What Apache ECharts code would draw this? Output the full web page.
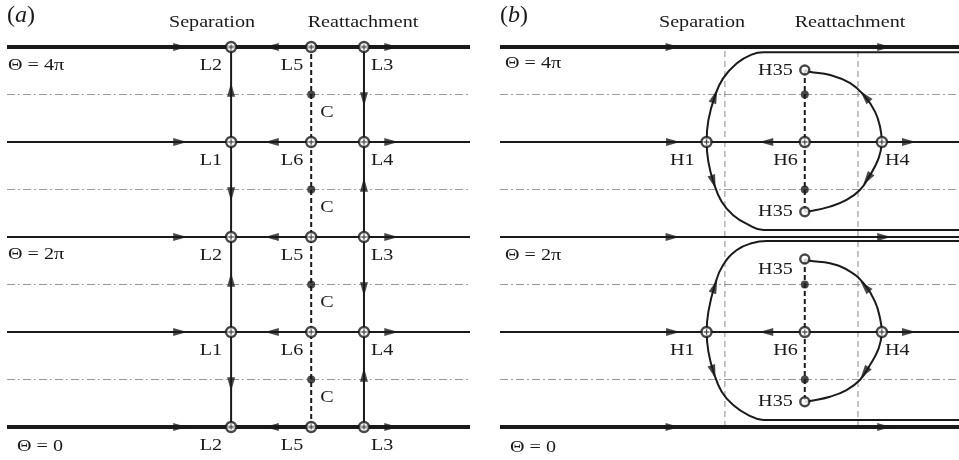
<!DOCTYPE html>
<html>
<head>
<meta charset="utf-8">
<script src="https://cdn.jsdelivr.net/npm/echarts@6/dist/echarts.min.js"></script>
<style>
  html, body { margin: 0; padding: 0; background: #ffffff; }
  #chart { width: 959px; height: 460px; }
</style>
</head>
<body>
<div id="chart"></div>
<script>
// Phase levels Θ, in units of π
const thetaLevels = [0, 1, 2, 3, 4];
const midLevels = [0.5, 1.5, 2.5, 3.5];

// ---------- (a) limiting streamlines, stream-wise positions on a 0–100 scale ----------
const aColumnsX = [48.4, 65.7, 77.1];            // separation, centre line, reattachment
const aEvenNames = ['L2', 'L5', 'L3'];           // at Θ = 0, 2π, 4π
const aOddNames = ['L1', 'L6', 'L4'];            // at Θ = π, 3π
const aFlowArrows = [[37.4, 0], [57.2, 180], [83.0, 0]];                 // x, heading (deg)
const aSepArrows = [[3.55, 90], [2.45, -90], [1.55, 90], [0.45, -90]];   // Θ, heading
const aReatArrows = [[3.45, -90], [2.55, 90], [1.45, -90], [0.55, 90]];
const aThetaTags = [[4, 'Θ = 4π'], [2, 'Θ = 2π'], [0, 'Θ = 0']];

// ---------- (b) ----------
const bGuideX = [49.0, 78.0];                    // separation / reattachment guides
const bGuideTop = 3.97;
const bNodeX = [45.0, 66.4, 83.2];               // H1, H6, H4
const bNodeNames = ['H1', 'H6', 'H4'];
const bNodeLevels = [1, 3];
const bH35 = [[66.4, 3.758], [66.4, 2.266], [66.4, 1.768], [66.4, 0.266]];
const bCoreSegments = [[3.758, 2.266], [1.768, 0.266]];
const bThetaTags = [[4, 'Θ = 4π'], [2, 'Θ = 2π'], [0, 'Θ = 0']];
const bMainArrows = [[37.6, 0], [83.7, 0]];                   // on Θ = 0, 2π, 4π
const bNodeLineArrows = [[37.7, 0], [58.0, 180], [89.1, 0]];  // on Θ = π, 3π

// separatrices spiralling into the H35 foci, Θ in 2π..4π
const bUpperA = [[45.0, 3.0], [45.4, 3.23], [46.8, 3.48], [48.6, 3.67], [51.6, 3.83], [54.8, 3.92], [57.4, 3.945], [100, 3.945]];
const bLowerA = [[45.0, 3.0], [45.4, 2.79], [46.5, 2.58], [48.3, 2.37], [50.8, 2.23], [54.1, 2.13], [57.4, 2.074], [100, 2.074]];
const bArcUpA = [[66.4, 3.758], [67.4, 3.74], [71.9, 3.705], [76.3, 3.62], [79.5, 3.48], [81.7, 3.32], [82.8, 3.16], [83.2, 3.0]];
const bArcDownA = [[83.2, 3.0], [82.5, 2.83], [80.6, 2.65], [78.4, 2.495], [75.5, 2.39], [71.9, 2.32], [67.5, 2.27], [66.4, 2.266]];
// Θ in 0..2π
const bUpperB = [[45.0, 1.0], [45.4, 1.214], [46.8, 1.495], [48.6, 1.705], [51.6, 1.863], [54.8, 1.934], [58.1, 1.958], [100, 1.958]];
const bLowerB = [[45.0, 1.0], [45.4, 0.793], [46.5, 0.582], [48.3, 0.372], [50.8, 0.232], [54.1, 0.126], [57.4, 0.074], [100, 0.074]];
const bArcUpB = [[66.4, 1.768], [67.4, 1.75], [71.9, 1.723], [76.3, 1.635], [79.5, 1.495], [81.7, 1.32], [82.8, 1.144], [83.2, 1.0]];
const bArcDownB = [[83.2, 1.0], [82.5, 0.828], [80.6, 0.653], [78.4, 0.495], [75.5, 0.389], [71.9, 0.319], [67.5, 0.274], [66.4, 0.266]];
const bCurveArrows = [
  [46.8, 3.48, 70], [79.5, 3.48, 131], [46.5, 2.58, -72], [80.0, 2.61, -125],
  [46.8, 1.48, 70], [79.5, 1.48, 131], [46.5, 0.58, -72], [79.4, 0.57, -125]
];

// ---------- styling helpers ----------
const INK = '#1a1a1a';
const SERIF = '"Liberation Serif", "DejaVu Serif", serif';
const TEXT_SIZE = 17.5, TEXT_STRETCH = 1.15;
const base = { silent: true, animation: false };

function path(gi, pts, width, type, color, smooth) {
  return Object.assign({
    type: 'line', xAxisIndex: gi, yAxisIndex: gi, data: pts, symbol: 'none', clip: false,
    smooth: smooth || false, z: 2,
    lineStyle: { color: color || INK, width: width, type: type || 'solid' }
  }, base);
}
function arrows(gi, pts) {
  return Object.assign({
    type: 'scatter', xAxisIndex: gi, yAxisIndex: gi, data: pts, clip: false,
    symbol: 'triangle', symbolSize: [8, 14], symbolRotate: v => v[2] - 90,
    itemStyle: { color: INK }, z: 6
  }, base);
}
function nodes(gi, pts) {
  return [
    Object.assign({
      type: 'scatter', xAxisIndex: gi, yAxisIndex: gi, clip: false, symbol: 'circle', symbolSize: 10,
      itemStyle: { color: '#fff', borderColor: INK, borderWidth: 2.4 }, z: 7, data: pts
    }, base),
    Object.assign({
      type: 'scatter', xAxisIndex: gi, yAxisIndex: gi, clip: false,
      symbol: 'path://M-1,-5H1V-1H5V1H1V5H-1V1H-5V-1H-1Z', symbolSize: 5,
      itemStyle: { color: INK }, z: 8, data: pts
    }, base)
  ];
}
function dots(gi, pts) {
  return Object.assign({
    type: 'scatter', xAxisIndex: gi, yAxisIndex: gi, clip: false, symbol: 'circle', symbolSize: 8,
    itemStyle: { color: INK }, z: 7, data: pts
  }, base);
}

const series = [];
const labels = [];   // text tied to data points: grid, point, text, pixel nudge, alignment
const tag = (gi, at, text, dx, dy, align) => labels.push({ gi, at, text, dx, dy, align });

// ---------- panel (a) ----------
midLevels.forEach(t => series.push(path(0, [[0, t], [100, t]], 1, [8, 3, 2, 3], '#9c9c9c')));
thetaLevels.forEach(t => series.push(path(0, [[0, t], [100, t]], (t === 0 || t === 4) ? 4 : 2)));
series.push(path(0, [[aColumnsX[0], 0], [aColumnsX[0], 4]], 2));
series.push(path(0, [[aColumnsX[2], 0], [aColumnsX[2], 4]], 2));
series.push(path(0, [[aColumnsX[1], 0], [aColumnsX[1], 4]], 2, [5, 3]));

const aArrowPts = [];
thetaLevels.forEach(t => aFlowArrows.forEach(([x, h]) => aArrowPts.push([x, t, h])));
aSepArrows.forEach(([t, h]) => aArrowPts.push([aColumnsX[0], t, h]));
aReatArrows.forEach(([t, h]) => aArrowPts.push([aColumnsX[2], t, h]));
series.push(arrows(0, aArrowPts));

const aNodePts = [];
const aNudge = [[-9, 'right'], [-8, 'right'], [7, 'left']];
thetaLevels.forEach(t => {
  const names = t % 2 === 0 ? aEvenNames : aOddNames;
  aColumnsX.forEach((x, i) => {
    aNodePts.push([x, t]);
    tag(0, [x, t], names[i], aNudge[i][0], 18, aNudge[i][1]);
  });
});
nodes(0, aNodePts).forEach(s => series.push(s));

series.push(dots(0, midLevels.map(t => [aColumnsX[1], t])));
midLevels.forEach(t => tag(0, [aColumnsX[1], t], 'C', 9, 18, 'left'));
aThetaTags.forEach(([t, s]) => tag(0, [0, t], s, t === 0 ? 10 : 1, t === 0 ? 19 : (t === 2 ? 17 : 18), 'left'));

// ---------- panel (b) ----------
midLevels.forEach(t => series.push(path(1, [[0, t], [100, t]], 1, [8, 3, 2, 3], '#9c9c9c')));
bGuideX.forEach(x => series.push(path(1, [[x, 0], [x, bGuideTop]], 1, [6, 4], '#8a8a8a')));
thetaLevels.forEach(t => series.push(path(1, [[0, t], [100, t]], (t === 0 || t === 4) ? 4 : 2)));
bCoreSegments.forEach(([a, b]) => series.push(path(1, [[bH35[0][0], a], [bH35[0][0], b]], 2, [5, 3])));
[bUpperA, bLowerA, bUpperB, bLowerB, bArcUpA, bArcDownA, bArcUpB, bArcDownB]
  .forEach(c => series.push(path(1, c, 2, 'solid', INK, 0.45)));

const bArrowPts = [];
[0, 2, 4].forEach(t => bMainArrows.forEach(([x, h]) => bArrowPts.push([x, t, h])));
bNodeLevels.forEach(t => bNodeLineArrows.forEach(([x, h]) => bArrowPts.push([x, t, h])));
bCurveArrows.forEach(p => bArrowPts.push(p));
series.push(arrows(1, bArrowPts));

const bNodePts = [];
const bNudge = [[-12, 'right'], [-7, 'right'], [3, 'left']];
bNodeLevels.forEach(t => bNodeX.forEach((x, i) => {
  bNodePts.push([x, t]);
  tag(1, [x, t], bNodeNames[i], bNudge[i][0], 18, bNudge[i][1]);
}));
nodes(1, bNodePts).forEach(s => series.push(s));

series.push(dots(1, midLevels.map(t => [bH35[0][0], t])));
series.push(Object.assign({
  type: 'scatter', xAxisIndex: 1, yAxisIndex: 1, clip: false, symbol: 'circle', symbolSize: 9,
  itemStyle: { color: '#fff', borderColor: INK, borderWidth: 2.4 }, z: 7, data: bH35
}, base));
bH35.forEach((p, i) => tag(1, p, 'H35', -12, i === 2 ? 10 : 0, 'right'));
bThetaTags.forEach(([t, s]) => tag(1, [0, t], s, t === 0 ? 10 : 5, t === 0 ? 20 : (t === 2 ? 18 : 16), 'left'));

// ---------- draw ----------
const chart = echarts.init(document.getElementById('chart'), null, { renderer: 'canvas' });
chart.setOption({
  backgroundColor: '#ffffff',
  animation: false,
  grid: [
    { left: 7, top: 47, width: 463, height: 380 },
    { left: 500, top: 47, width: 459, height: 380 }
  ],
  xAxis: [
    { type: 'value', gridIndex: 0, min: 0, max: 100, show: false },
    { type: 'value', gridIndex: 1, min: 0, max: 100, show: false }
  ],
  yAxis: [
    { type: 'value', gridIndex: 0, min: 0, max: 4, show: false },
    { type: 'value', gridIndex: 1, min: 0, max: 4, show: false }
  ],
  series: series
});

// Serif text, slightly widened like the printed figure lettering
const word = (x, y, text, align) => ({
  type: 'text', x: x, y: y, scaleX: TEXT_STRETCH, silent: true,
  style: { text: text, fontFamily: SERIF, fontSize: TEXT_SIZE, fill: INK, align: align, verticalAlign: 'middle' }
});
const panelTag = (x, letter) => ({
  type: 'text', x: x, y: 16, silent: true,
  style: {
    text: '{p|(}{i|' + letter + '}{p|)}', verticalAlign: 'middle', align: 'left',
    rich: {
      p: { fontFamily: SERIF, fontSize: 24, fill: INK },
      i: { fontFamily: SERIF, fontSize: 24, fontStyle: 'italic', fill: INK }
    }
  }
});

const graphics = [
  panelTag(7, 'a'), panelTag(500, 'b'),
  word(212, 22, 'Separation', 'center'), word(363, 22, 'Reattachment', 'center'),
  word(702, 22, 'Separation', 'center'), word(850, 22, 'Reattachment', 'center')
];
labels.forEach(l => {
  const p = chart.convertToPixel({ gridIndex: l.gi }, l.at);
  graphics.push(word(p[0] + l.dx, p[1] + l.dy, l.text, l.align));
});
chart.setOption({ graphic: graphics });
</script>
</body>
</html>
